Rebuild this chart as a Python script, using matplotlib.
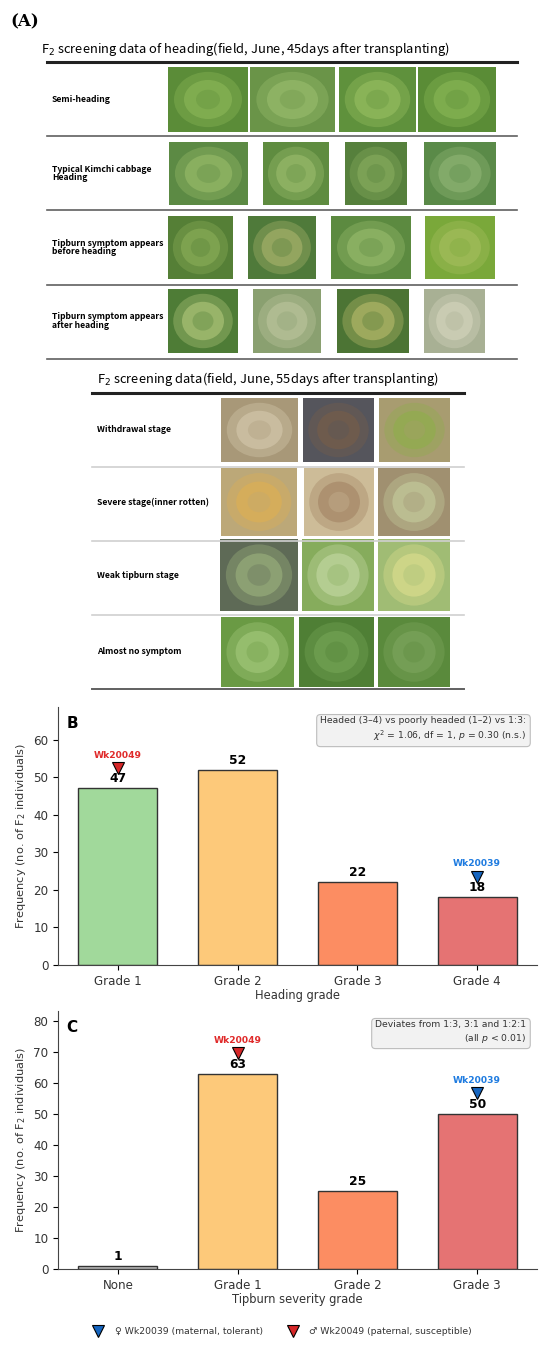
import numpy as np
import matplotlib
matplotlib.use('Agg')
import matplotlib.pyplot as plt
from matplotlib.patches import Rectangle, Ellipse
from matplotlib.lines import Line2D

# ---- data ----
heading_grades = ['Grade 1', 'Grade 2', 'Grade 3', 'Grade 4']
heading_counts = [47, 52, 22, 18]
heading_colors = ['#a1d99b', '#fdc97a', '#fc8d62', '#e57373']

tipburn_grades = ['None', 'Grade 1', 'Grade 2', 'Grade 3']
tipburn_counts = [1, 63, 25, 50]
tipburn_colors = ['#bdbdbd', '#fdc97a', '#fc8d62', '#e57373']

# parent positions (index of grade) for each panel
heading_parents = {'Wk20049': 0, 'Wk20039': 3}
tipburn_parents = {'Wk20049': 1, 'Wk20039': 3}
parent_color = {'Wk20039': '#1565c0', 'Wk20049': '#d62728'}
parent_text = {'Wk20039': '#1e7be0', 'Wk20049': '#e02a2a'}

heading_rows = ['Semi-heading', 'Typical Kimchi cabbage\nHeading',
                'Tipburn symptom appears\nbefore heading',
                'Tipburn symptom appears\nafter heading']
stage_rows = ['Withdrawal stage', 'Severe stage(inner rotten)',
              'Weak tipburn stage', 'Almost no symptom']

# photo tones (outer, centre) - stand-ins for the field photographs
heading_tones = [
    [('#5b8c38', '#8fba5a'), ('#6a9448', '#9cc070'), ('#5f913c', '#9cc264'), ('#5a8c36', '#8cba58')],
    [('#5c8a44', '#9cbf6c'), ('#5f8c40', '#a0c070'), ('#56803c', '#8cb060'), ('#5a8a48', '#94b878')],
    [('#557f36', '#8fb25a'), ('#4f7a3a', '#b0b870'), ('#5c8a40', '#9cbf70'), ('#7aa83a', '#a8c060')],
    [('#4e7c36', '#b8cc80'), ('#8aa070', '#c0c8a0'), ('#4c7434', '#c0c070'), ('#a8b094', '#d8d8c0')],
]
stage_tones = [
    [('#a89878', '#d8ccb0'), ('#55555c', '#7a5e48'), ('#a89c70', '#8cb048')],
    [('#bca878', '#e0b050'), ('#cdbc98', '#a08060'), ('#a09070', '#c8d0a0')],
    [('#5e6a56', '#a0b880'), ('#86ac5c', '#c8dca8'), ('#a0bc74', '#e0e090')],
    [('#6a9a44', '#a8cc80'), ('#4f7f35', '#78a858'), ('#5a8a3c', '#80a860')],
]

# ---- layout (pixels of the 550 x 1350 figure) ----
sec1_cols = [[(168, 248), (250, 335), (339, 416), (418, 496)],
             [(169, 248), (263, 329), (345, 407), (424, 496)],
             [(168, 233), (248, 316), (331, 411), (425, 495)],
             [(168, 238), (253, 321), (337, 409), (424, 485)]]
sec1_rowy = [(67, 132), (142, 205), (216, 279), (289, 353)]
sec1_lines = [136, 210, 285, 359]
sec2_cols = [[(221, 298), (303, 374), (379, 450)],
             [(221, 297), (304, 374), (378, 450)],
             [(220, 298), (302, 374), (378, 450)],
             [(221, 294), (299, 374), (378, 450)]]
sec2_rowy = [(398, 462), (468, 536), (539, 611), (617, 687)]
sec2_lines = [467, 541, 615]

fig = plt.figure(figsize=(5.5, 13.5), dpi=100)
top = fig.add_axes([0, 0, 1, 1])
top.set_xlim(0, 550)
top.set_ylim(1350, 0)
top.axis('off')

txt_font = ['Noto Sans CJK KR', 'DejaVu Sans']

def photo(x0, x1, y0, y1, tones):
    outer, inner = tones
    top.add_patch(Rectangle((x0, y0), x1 - x0, y1 - y0, fc=outer, ec='none'))
    w, h = x1 - x0, y1 - y0
    cx, cy = (x0 + x1) / 2, (y0 + y1) / 2
    top.add_patch(Ellipse((cx, cy), w * 0.85, h * 0.85, fc=inner, ec='none', alpha=0.35))
    top.add_patch(Ellipse((cx, cy), w * 0.6, h * 0.6, fc=inner, ec='none', alpha=0.55))
    top.add_patch(Ellipse((cx, cy), w * 0.3, h * 0.3, fc=outer, ec='none', alpha=0.3))

top.text(10, 22, '(A)', fontsize=12, fontweight='bold', family='DejaVu Serif', va='center')

top.text(41, 49, 'F$_2$ screening data of heading(field, June, 45days after transplanting)',
         fontsize=9.3, family=txt_font, va='center')
top.plot([47, 517], [62, 62], color='#222222', lw=2.2)
for i, lab in enumerate(heading_rows):
    y0, y1 = sec1_rowy[i]
    top.text(52, (y0 + y1) / 2, lab, fontsize=6.2, fontweight='bold', family=txt_font,
             va='center', linespacing=0.95)
    for (x0, x1), tn in zip(sec1_cols[i], heading_tones[i]):
        photo(x0, x1, y0, y1, tn)
for y in sec1_lines:
    top.plot([47, 517], [y, y], color='#606060', lw=1.2)

top.text(97, 379, 'F$_2$ screening data(field, June, 55days after transplanting)',
         fontsize=9.3, family=txt_font, va='center')
top.plot([92, 464], [393, 393], color='#222222', lw=2.2)
for i, lab in enumerate(stage_rows):
    y0, y1 = sec2_rowy[i]
    top.text(97, (y0 + y1) / 2, lab, fontsize=6.2, fontweight='bold', family=txt_font, va='center')
    for (x0, x1), tn in zip(sec2_cols[i], stage_tones[i]):
        photo(x0, x1, y0, y1, tn)
for y in sec2_lines:
    top.plot([92, 464], [y, y], color='#d0d0d0', lw=1.2)
top.plot([92, 464], [689, 689], color='#606060', lw=1.4)

# ---- bar charts ----
def bar_panel(rect, grades, counts, colors, parents, letter, xlabel, note):
    ax = fig.add_axes(rect)
    x = np.arange(len(grades))
    ymax = max(counts) * 1.32
    ax.bar(x, counts, width=0.66, color=colors, edgecolor='#333333', linewidth=1.0, zorder=2)
    for xi, c in zip(x, counts):
        ax.text(xi, c + ymax * 0.012, str(c), ha='center', va='bottom', fontsize=8.8,
                fontweight='bold', zorder=4)
    for name, idx in parents.items():
        ax.plot(idx, counts[idx] + ymax * 0.08, marker='v', ms=9, color=parent_color[name],
                mec='black', mew=0.8, zorder=5, ls='none')
        ax.text(idx, counts[idx] + ymax * 0.112, name, ha='center', va='bottom', fontsize=6.6,
                fontweight='bold', color=parent_text[name])
    ax.set_xlim(-0.5, len(grades) - 0.5)
    ax.set_ylim(0, ymax)
    ax.set_xticks(x)
    ax.set_xticklabels(grades, fontsize=8.6, color='#333333')
    ax.tick_params(axis='y', labelsize=8.6, labelcolor='#333333')
    ax.set_xlabel(xlabel, fontsize=8.3, color='#333333', labelpad=1)
    ax.set_ylabel('Frequency (no. of F$_2$ individuals)', fontsize=8.2, color='#333333')
    for s in ['top', 'right']:
        ax.spines[s].set_visible(False)
    for s in ['left', 'bottom']:
        ax.spines[s].set_color('#444444')
    ax.text(0.018, 0.965, letter, transform=ax.transAxes, fontsize=11, fontweight='bold',
            va='top', ha='left')
    ax.text(0.978, 0.965, note, transform=ax.transAxes, fontsize=6.7, ha='right', va='top',
            color='#333333', linespacing=1.3,
            bbox=dict(boxstyle='round,pad=0.4', fc='#f2f2f2', ec='#bdbdbd', lw=0.8))
    return ax

bar_panel([0.1055, 0.2852, 0.871, 0.191], heading_grades, heading_counts, heading_colors,
          heading_parents, 'B', 'Heading grade',
          'Headed (3\u20134) vs poorly headed (1\u20132) vs 1:3:\n'
          '$\\chi^2$ = 1.06, df = 1, $p$ = 0.30 (n.s.)')
bar_panel([0.1055, 0.06, 0.871, 0.191], tipburn_grades, tipburn_counts, tipburn_colors,
          tipburn_parents, 'C', 'Tipburn severity grade',
          'Deviates from 1:3, 3:1 and 1:2:1\n(all $p$ < 0.01)')

handles = [Line2D([], [], marker='v', ls='none', ms=9, color=parent_color['Wk20039'], mec='black', mew=0.8),
           Line2D([], [], marker='v', ls='none', ms=9, color=parent_color['Wk20049'], mec='black', mew=0.8)]
labels = ['\u2640 Wk20039 (maternal, tolerant)', '\u2642 Wk20049 (paternal, susceptible)']
leg = fig.legend(handles, labels, loc='center', bbox_to_anchor=(0.51, 0.0135), ncol=2,
                 frameon=False, fontsize=6.7, columnspacing=2.2, handletextpad=0.8)
for t in leg.get_texts():
    t.set_color('#333333')

fig.savefig('out.png', dpi=100)
